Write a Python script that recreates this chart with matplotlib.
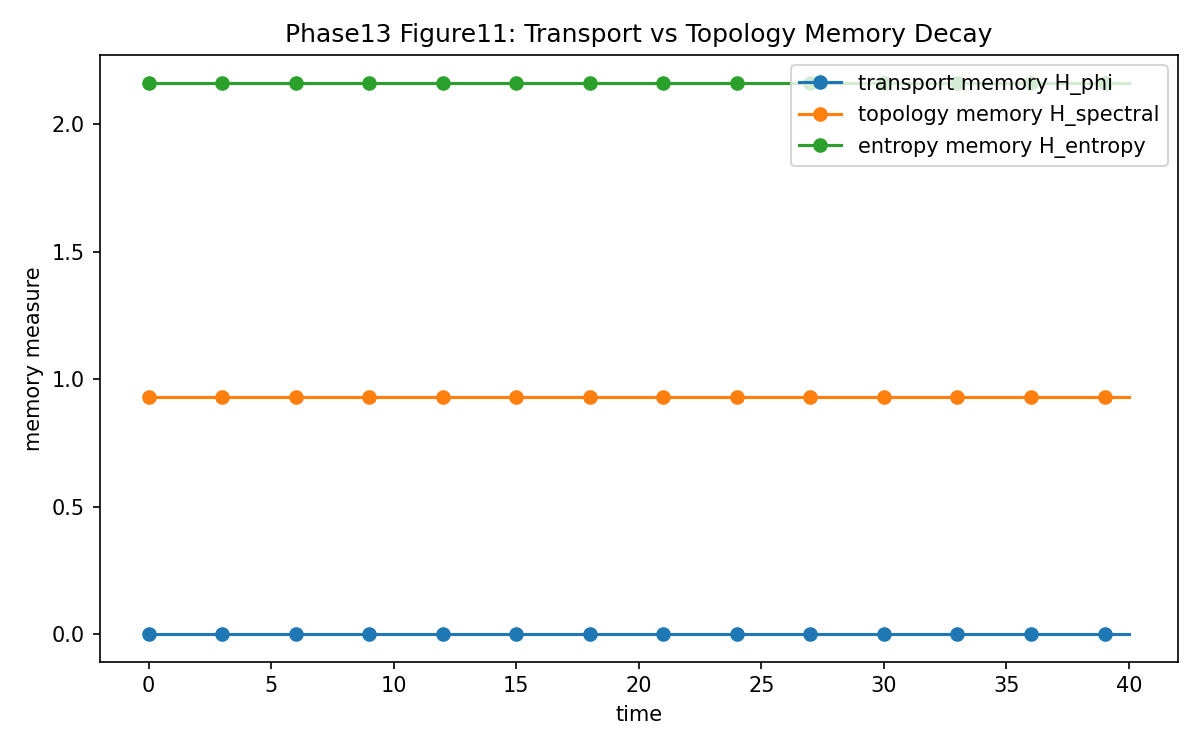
import matplotlib
matplotlib.use("Agg")
import matplotlib.pyplot as plt

time = [0, 1, 2, 3, 4, 5, 6, 7, 8, 9, 10, 11, 12, 13, 14, 15, 16, 17, 18, 19, 20,
        21, 22, 23, 24, 25, 26, 27, 28, 29, 30, 31, 32, 33, 34, 35, 36, 37, 38, 39, 40]

H_phi = [0.0, 0.0, 0.0, 0.0, 0.0, 0.0, 0.0, 0.0, 0.0, 0.0, 0.0, 0.0, 0.0, 0.0,
         0.0, 0.0, 0.0, 0.0, 0.0, 0.0, 0.0, 0.0, 0.0, 0.0, 0.0, 0.0, 0.0, 0.0,
         0.0, 0.0, 0.0, 0.0, 0.0, 0.0, 0.0, 0.0, 0.0, 0.0, 0.0, 0.0, 0.0]

H_spectral = [0.931, 0.931, 0.931, 0.931, 0.931, 0.931, 0.931, 0.931, 0.931, 0.931,
              0.931, 0.931, 0.931, 0.931, 0.931, 0.931, 0.931, 0.931, 0.931, 0.931,
              0.931, 0.931, 0.931, 0.931, 0.931, 0.931, 0.931, 0.931, 0.931, 0.931,
              0.931, 0.931, 0.931, 0.931, 0.931, 0.931, 0.931, 0.931, 0.931, 0.931,
              0.931]

H_entropy = [2.163, 2.163, 2.163, 2.163, 2.163, 2.163, 2.163, 2.163, 2.163, 2.163,
             2.163, 2.163, 2.163, 2.163, 2.163, 2.163, 2.163, 2.163, 2.163, 2.163,
             2.163, 2.163, 2.163, 2.163, 2.163, 2.163, 2.163, 2.163, 2.163, 2.163,
             2.163, 2.163, 2.163, 2.163, 2.163, 2.163, 2.163, 2.163, 2.163, 2.163,
             2.163]

plt.figure(figsize=(8, 5), dpi=150)
plt.plot(time, H_phi, marker="o", markevery=3, label="transport memory H_phi")
plt.plot(time, H_spectral, marker="o", markevery=3, label="topology memory H_spectral")
plt.plot(time, H_entropy, marker="o", markevery=3, label="entropy memory H_entropy")
plt.title("Phase13 Figure11: Transport vs Topology Memory Decay")
plt.xlabel("time")
plt.ylabel("memory measure")
plt.legend(loc="upper right")
plt.subplots_adjust(left=0.083, right=0.9817, top=0.9267, bottom=0.1177)
plt.savefig("out.png")
